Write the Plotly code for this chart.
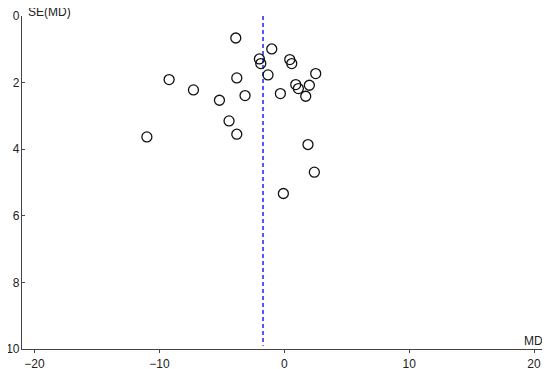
import plotly.graph_objects as go

md = [-3.88, -1.0, -1.99, -1.88, 0.44, 0.6, 2.52, -1.3, -9.22, -3.8, 0.92, 2.01,
      1.13, -7.27, -3.14, -0.31, 1.72, -5.19, -4.42, -11.0, -3.8, 1.9, 2.41, -0.07]
se = [0.66, 0.99, 1.29, 1.43, 1.31, 1.43, 1.73, 1.77, 1.91, 1.86, 2.06, 2.08,
      2.18, 2.22, 2.39, 2.33, 2.41, 2.53, 3.15, 3.63, 3.55, 3.86, 4.69, 5.33]
pooled_md = -1.7
x_ticks = [-20, -10, 0, 10, 20]
y_ticks = [0, 2, 4, 6, 8, 10]

fig = go.Figure()
fig.add_trace(go.Scatter(
    x=[pooled_md, pooled_md], y=[0, 9.9], mode="lines",
    line=dict(color="#2020ff", width=1.5, dash="4px,3px"), hoverinfo="skip"))
fig.add_trace(go.Scatter(
    x=md, y=se, mode="markers",
    marker=dict(symbol="circle-open", size=10, color="#111111", line=dict(width=1.3))))

font = dict(family="Liberation Sans, Arial, sans-serif", size=12, color="#222222")
fig.update_layout(
    width=550, height=369,
    margin=dict(l=14, r=14, t=8, b=28),
    paper_bgcolor="white", plot_bgcolor="white",
    showlegend=False, font=font,
    xaxis=dict(range=[-21, 20.8], tickvals=x_ticks, showgrid=False, zeroline=False,
               showline=True, linecolor="#444444", linewidth=1.2, automargin=False,
               ticks="outside", ticklen=3, tickcolor="#444444", tickwidth=1.2),
    yaxis=dict(range=[10, 0], tickvals=y_ticks, showgrid=False, zeroline=False,
               showline=True, linecolor="#444444", linewidth=1.2, automargin=False,
               ticks="inside", ticklen=3, tickcolor="#444444", tickwidth=1.2,
               ticklabelstandoff=-1),
    annotations=[
        dict(text="SE(MD)", xref="paper", yref="paper", x=0, y=1, xanchor="left",
             yanchor="bottom", xshift=4, yshift=-5, showarrow=False, font=font),
        dict(text="MD", xref="paper", yref="paper", x=1, y=0, xanchor="right",
             yanchor="bottom", xshift=1, yshift=-1, showarrow=False, font=font),
    ],
)
fig.write_html("out.html")
